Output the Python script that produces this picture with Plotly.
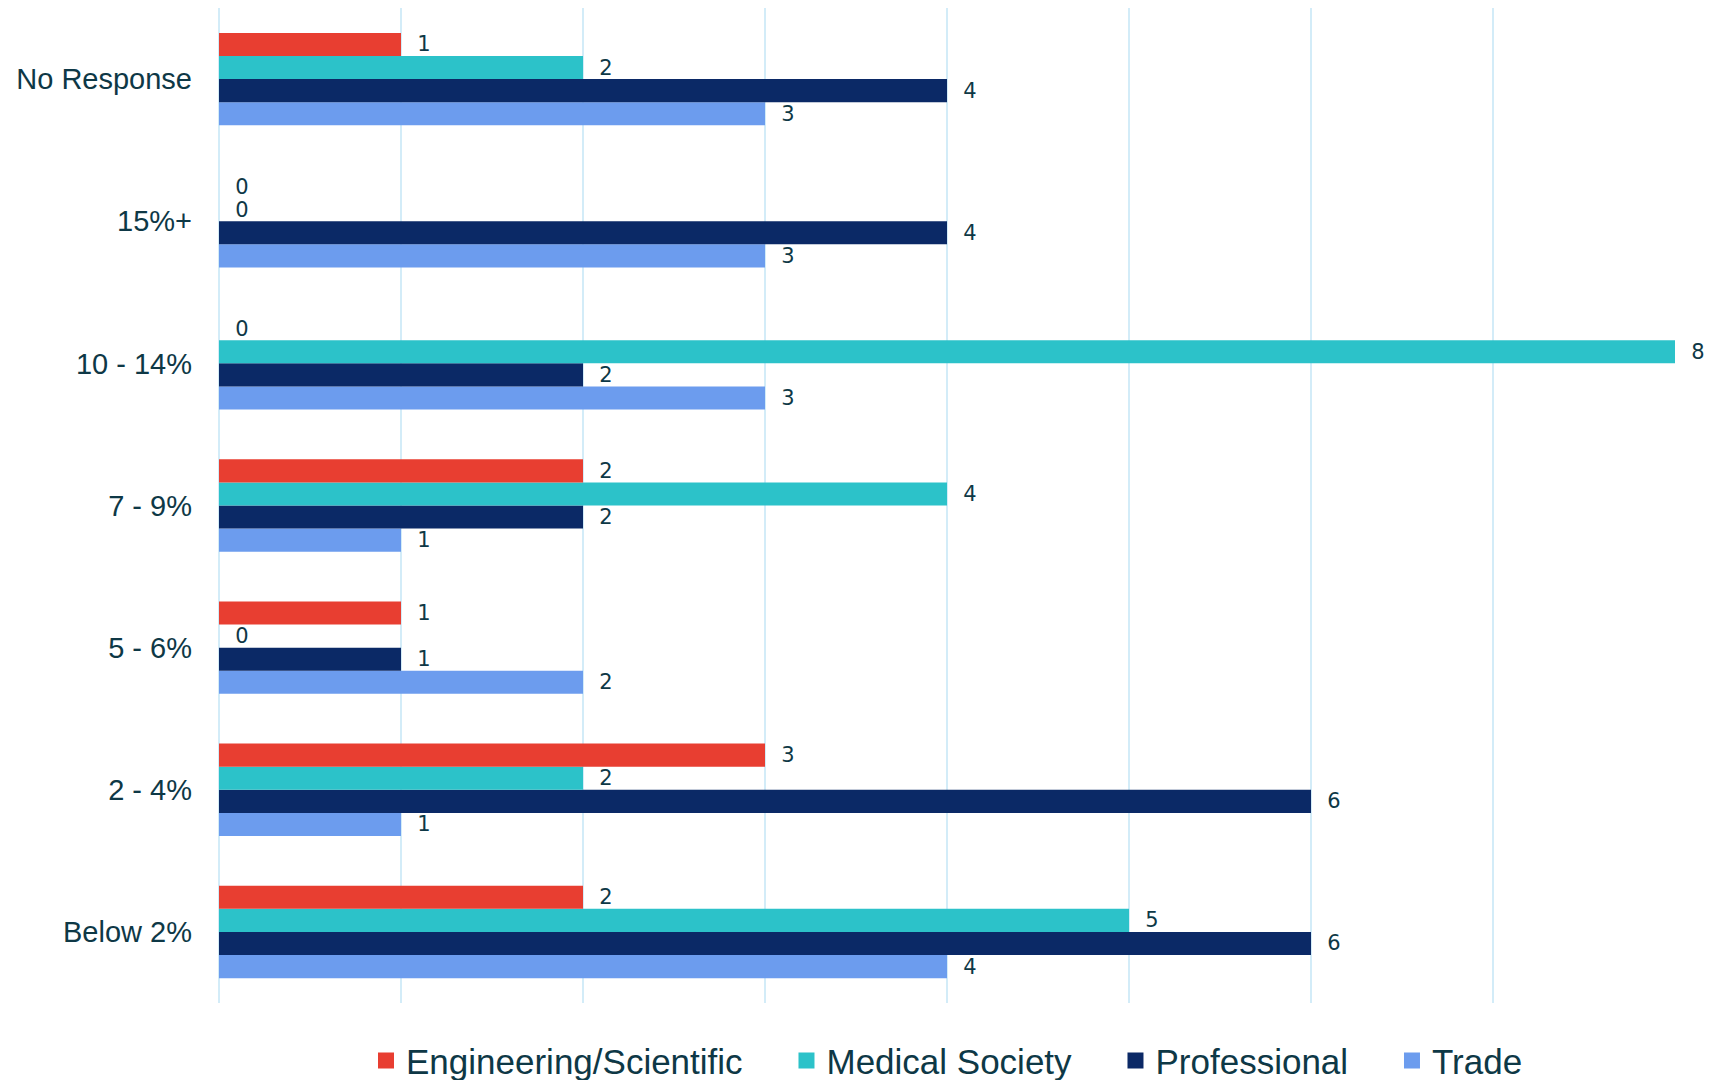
# Grouped horizontal bar chart - responses by category
import plotly.graph_objects as go

categories = ['Below 2%', '2 - 4%', '5 - 6%', '7 - 9%', '10 - 14%', '15%+', 'No Response']

engineering = [2, 3, 1, 2, 0, 0, 1]
medical = [5, 2, 0, 4, 8, 0, 2]
professional = [6, 6, 1, 2, 2, 4, 4]
trade = [4, 1, 2, 1, 3, 3, 3]

series_names = ['Engineering/Scientific', 'Medical Society', 'Professional', 'Trade']
series_values = [engineering, medical, professional, trade]
colors = ['#E83E31', '#2CC2C9', '#0B2966', '#6C9CEE']

text_color = '#0E3846'
pad = '\u00a0' * 4  # extra room between legend entries

fig = go.Figure()
# add in reverse so the first series sits on top of each group
for name, vals, col in reversed(list(zip(series_names, series_values, colors))):
    fig.add_trace(go.Bar(
        y=categories, x=vals, name=name, orientation='h', legendgroup=name,
        showlegend=False,
        marker=dict(color=col, line=dict(width=0)),
        text=['\u00a0\u00a0' + str(v) for v in vals],
        textposition='outside', constraintext='none', cliponaxis=False,
        textfont=dict(family='DejaVu Sans', size=21, color=text_color),
    ))

# legend-only entries so the square swatches can be bigger
for i, (name, col) in enumerate(zip(series_names, colors)):
    label = name + pad if i < len(series_names) - 1 else name
    fig.add_trace(go.Scatter(
        x=[None], y=[None], mode='markers', name=label, legendgroup=name,
        marker=dict(symbol='square', size=16, color=col, line=dict(width=0)),
    ))

# page body has an 8px margin, so the figure is a little smaller than the window
fig.update_layout(
    width=1711, height=1072,
    barmode='group', bargap=0.35, bargroupgap=0,
    plot_bgcolor='white', paper_bgcolor='white',
    margin=dict(l=211, r=44, t=0, b=77, autoexpand=False),
    font=dict(family='Liberation Sans', color=text_color),
    legend=dict(orientation='h', x=0.5, xanchor='center',
                yref='container', y=0.018, yanchor='middle',
                itemsizing='trace',
                font=dict(family='Liberation Sans', size=35, color=text_color),
                itemwidth=30),
    showlegend=True,
)
fig.update_xaxes(range=[0, 8], dtick=1, showticklabels=False, showgrid=True,
                 gridcolor='#D3ECF8', gridwidth=2, zeroline=True,
                 zerolinecolor='#D3ECF8', zerolinewidth=2, showline=False,
                 automargin=False)
fig.update_yaxes(tickfont=dict(size=29, color=text_color), showgrid=False,
                 ticklabelstandoff=26, showline=False, automargin=False,
                 categoryorder='array', categoryarray=categories)

fig.write_html('out.html')
